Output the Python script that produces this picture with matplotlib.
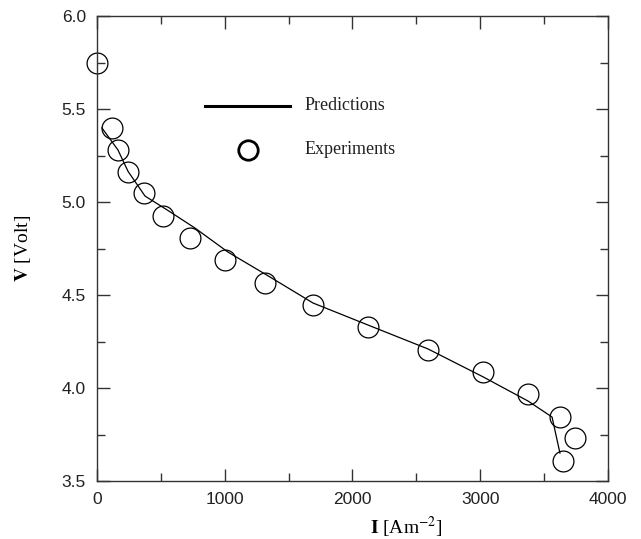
import matplotlib
matplotlib.use('Agg')
import matplotlib.pyplot as plt
from matplotlib.ticker import MultipleLocator

# experiments (current density A/m^2, voltage V)
exp_I = [0, 117, 164, 243, 368, 517, 728, 1002, 1315, 1691, 2121, 2591, 3022, 3374, 3624, 3742, 3648]
exp_V = [5.745, 5.40, 5.28, 5.16, 5.05, 4.925, 4.805, 4.69, 4.565, 4.447, 4.328, 4.204, 4.086, 3.968, 3.844, 3.731, 3.608]

# model predictions
pred_I = [39, 164, 243, 376, 550, 767, 1025, 1354, 1691, 2160, 2591, 3022, 3374, 3562, 3624]
pred_V = [5.398, 5.28, 5.165, 5.032, 4.957, 4.86, 4.731, 4.597, 4.457, 4.328, 4.21, 4.06, 3.93, 3.844, 3.65]

plt.rcParams['font.family'] = ['Liberation Sans', 'DejaVu Sans']
plt.rcParams['mathtext.fontset'] = 'stix'

fig = plt.figure(figsize=(6.41, 5.39), dpi=100)
ax = fig.add_axes([0.1513, 0.1076, 0.7972, 0.8627])

ax.plot(pred_I, pred_V, color='black', lw=0.9)
ax.plot(exp_I, exp_V, 'o', mfc='none', mec='black', ms=15, mew=0.9, ls='none', clip_on=False)

ax.set_xlim(0, 4000)
ax.set_ylim(3.5, 6.0)
ax.xaxis.set_major_locator(MultipleLocator(1000))
ax.xaxis.set_minor_locator(MultipleLocator(500))
ax.yaxis.set_major_locator(MultipleLocator(0.5))
ax.yaxis.set_minor_locator(MultipleLocator(0.25))
ax.yaxis.set_major_formatter(matplotlib.ticker.FormatStrFormatter('%.1f'))
ax.tick_params(which='both', direction='in', top=True, right=True, width=1, color='#333333',
               labelsize=12.5, labelcolor='#222222')
ax.tick_params(which='major', length=9, pad=8)
ax.tick_params(which='minor', length=6)
for s in ax.spines.values():
    s.set_linewidth(1)
    s.set_color('#333333')

serif = ['Liberation Serif', 'DejaVu Serif']
ax.set_xlabel(r'$\mathbf{I}$ [Am$^{-2}$]', family=serif, fontsize=14)
ax.xaxis.set_label_coords(0.605, -0.072)
ax.set_ylabel(r'$\mathbf{V}$ [Volt]', family=serif, fontsize=14)
ax.yaxis.set_label_coords(-0.125, 0.5)

# hand-placed legend as in the original figure
ax.plot([0.212, 0.378], [0.807, 0.807], transform=ax.transAxes, color='black', lw=2.2)
ax.plot([0.295], [0.712], 'o', transform=ax.transAxes, mfc='none', mec='black', ms=14, mew=2)
ax.text(0.407, 0.807, 'Predictions', transform=ax.transAxes, family=serif, fontsize=13, va='center', color='#222222')
ax.text(0.407, 0.712, 'Experiments', transform=ax.transAxes, family=serif, fontsize=13, va='center', color='#222222')

plt.savefig('out.png', dpi=100)
